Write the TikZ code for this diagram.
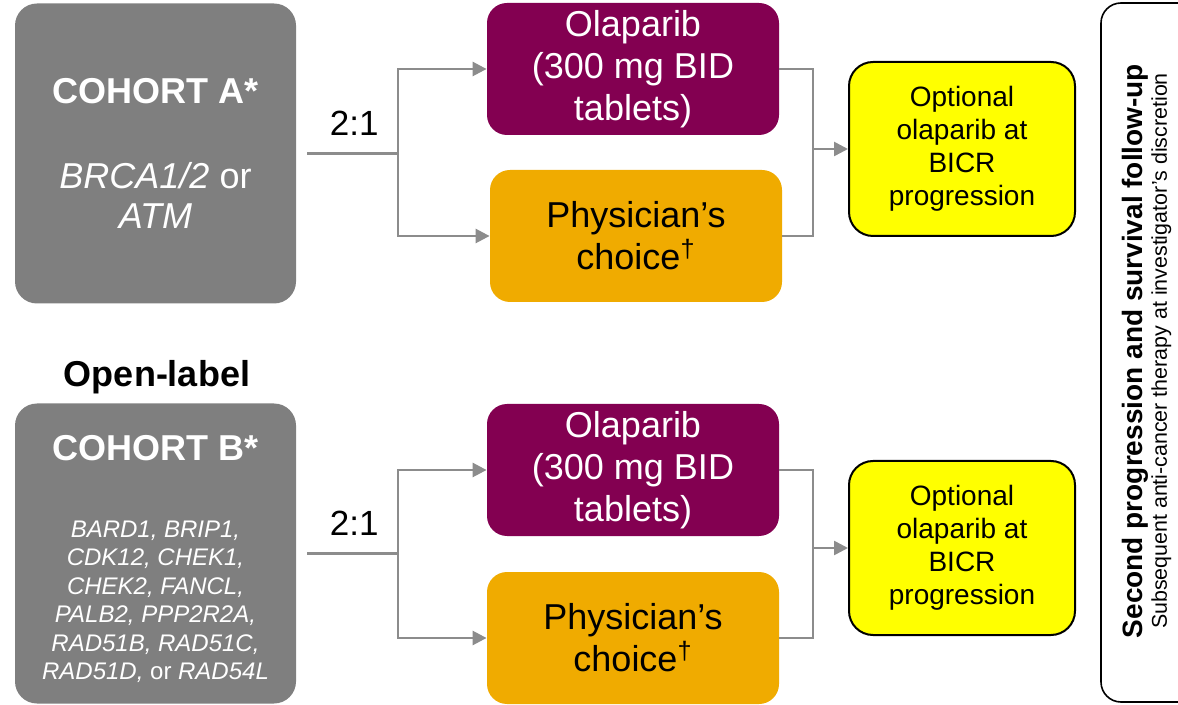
\documentclass[tikz,border=0pt]{standalone}
\usepackage{fontspec}
\setmainfont{Liberation Sans}
\usepackage{xcolor}
\usetikzlibrary{arrows.meta}
\definecolor{cohortgray}{HTML}{7F7F7F}
\definecolor{mulberry}{HTML}{830051}
\definecolor{azgold}{HTML}{F0AB00}
\definecolor{optyellow}{HTML}{FFFF00}
\definecolor{linkgray}{HTML}{8C8C8C}
\tikzset{
  cohort/.style={
    rectangle, rounded corners=11pt, fill=cohortgray, text=white,
    minimum width=140.5pt, minimum height=150pt, align=center, inner sep=0pt
  },
  olaparib/.style={
    rectangle, rounded corners=10pt, fill=mulberry, text=white,
    minimum width=146pt, minimum height=66pt, align=center,
    font=\fontsize{18}{21}\selectfont
  },
  choice/.style={
    rectangle, rounded corners=10pt, fill=azgold, text=black,
    minimum width=146pt, minimum height=66pt, align=center,
    font=\fontsize{18}{21}\selectfont
  },
  optional/.style={
    rectangle, rounded corners=12pt, draw=black, line width=1pt,
    fill=optyellow, minimum width=113pt, minimum height=87pt, align=center,
    font=\fontsize{14}{16.5}\selectfont
  },
  panel/.style={rounded corners=10pt, draw=black, line width=0.8pt},
  link/.style={draw=linkgray, line width=1.3pt},
  linkarrow/.style={link, -{Triangle[length=7pt,width=7pt]}},
  ratio/.style={font=\fontsize{17.5}{20}\selectfont, inner sep=1pt},
}

\begin{document}
\begin{tikzpicture}[x=0.5pt, y=-0.5pt]
  \useasboundingbox (0,0) rectangle (1178,705);

  % cohorts
  \node[cohort, font=\fontsize{18}{20}\selectfont] (cohA) at (155.5,153.5)
    {\textbf{COHORT A*}\\[22.5pt]\textit{BRCA1/2} or\\\textit{ATM}};
  \node[font=\fontsize{18}{20}\selectfont\bfseries] (openlabel) at (157,377)
    {Open-label};
  \node[cohort, font=\fontsize{12}{14.2}\selectfont\itshape] (cohB) at (155.5,553.5)
    {{\upshape\bfseries\fontsize{18}{20}\selectfont\rule{0pt}{18pt}COHORT B*}\\[24.3pt]
    BARD1, BRIP1,\\CDK12, CHEK1,\\CHEK2, FANCL,\\PALB2, PPP2R2A,\\
    RAD51B, RAD51C,\\RAD51D, {\upshape or} RAD54L};

  % arms
  \node[olaparib] (olapA) at (633,69) {Olaparib\\(300 mg BID\\tablets)};
  \node[choice] (choiceA) at (636,236) {Physician’s\\choice\textsuperscript{†}};
  \node[olaparib] (olapB) at (633,470) {Olaparib\\(300 mg BID\\tablets)};
  \node[choice] (choiceB) at (633,638) {Physician’s\\choice\textsuperscript{†}};

  \node[optional] (optA) at (962,149)
    {Optional\\olaparib at\\BICR\\progression};
  \node[optional] (optB) at (962,548)
    {Optional\\olaparib at\\BICR\\progression};

  % follow-up panel
  \draw[panel] (1101,3) rectangle (1260,702);
  \node[rotate=90, align=center] (followup) at (1147,351)
    {\fontsize{14}{17}\selectfont\bfseries Second progression and survival follow-up\\
     \fontsize{10.7}{12}\selectfont Subsequent anti-cancer therapy at investigator’s discretion};

  % randomisation
  \coordinate (splitA) at (398,153.5);
  \coordinate (splitB) at (398,553.5);
  \draw[link, shorten <=5.5pt] (cohA.east) -- node[ratio, above=7.5pt, pos=0.57] {2:1} (splitA);
  \draw[linkarrow] (splitA) |- (olapA.west);
  \draw[linkarrow] (splitA) |- (choiceA.west);
  \draw[link, shorten <=5.5pt] (cohB.east) -- node[ratio, above=7.5pt, pos=0.57] {2:1} (splitB);
  \draw[linkarrow] (splitB) |- (olapB.west);
  \draw[linkarrow] (splitB) |- (choiceB.west);

  % to optional olaparib
  \coordinate (joinA) at (813,149);
  \coordinate (joinB) at (813,548);
  \draw[link] (olapA.east) -| (joinA) |- (choiceA.east);
  \draw[linkarrow] (joinA) -- (optA.west);
  \draw[link] (olapB.east) -| (joinB) |- (choiceB.east);
  \draw[linkarrow] (joinB) -- (optB.west);

\end{tikzpicture}
\end{document}
